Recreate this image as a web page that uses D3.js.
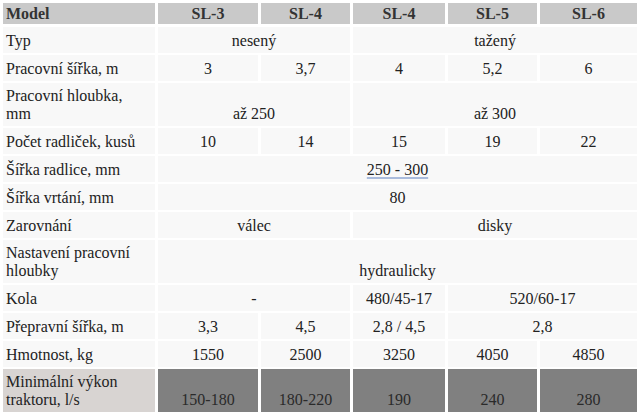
<!DOCTYPE html>
<html><head><meta charset="utf-8">
<script src="https://cdn.jsdelivr.net/npm/d3@7"></script>
<style>body{margin:0;background:#fff}text{font-family:"Liberation Serif",serif;font-size:16px;fill:#222}</style>
</head><body><svg width="643" height="418"></svg>
<script>
// Table content
const models = ["SL-3", "SL-4", "SL-4", "SL-5", "SL-6"];
const rowLabels = [["Typ"], ["Pracovní šířka, m"], ["Pracovní hloubka,", "mm"], ["Počet radliček, kusů"],
  ["Šířka radlice, mm"], ["Šířka vrtání, mm"], ["Zarovnání"], ["Nastavení pracovní", "hloubky"],
  ["Kola"], ["Přepravní šířka, m"], ["Hmotnost, kg"], ["Minimální výkon", "traktoru, l/s"]];
// each cell: [text, span]
const rowValues = [
  [["nesený", 2], ["tažený", 3]],
  [["3", 1], ["3,7", 1], ["4", 1], ["5,2", 1], ["6", 1]],
  [["až 250", 2], ["až 300", 3]],
  [["10", 1], ["14", 1], ["15", 1], ["19", 1], ["22", 1]],
  [["250 - 300", 5]],
  [["80", 5]],
  [["válec", 2], ["disky", 3]],
  [["hydraulicky", 5]],
  [["-", 2], ["480/45-17", 1], ["520/60-17", 2]],
  [["3,3", 1], ["4,5", 1], ["2,8 / 4,5", 1], ["2,8", 2]],
  [["1550", 1], ["2500", 1], ["3250", 1], ["4050", 1], ["4850", 1]],
  [["150-180", 1], ["180-220", 1], ["190", 1], ["240", 1], ["280", 1]]
];
const rowHeights = [28, 28, 45, 28, 28, 28, 28, 45, 28, 28, 28, 45];

const svg = d3.select("svg");
const colEdges = [3, 158, 261, 353, 448, 540, 640];
const yEdges = [3, 26];
rowHeights.forEach(h => yEdges.push(yEdges[yEdges.length - 1] + h));
const gap = 3;

// header
const hdr = svg.append("g");
["Model", ...models].forEach((m, i) => {
  hdr.append("rect").attr("x", colEdges[i]).attr("y", yEdges[0])
    .attr("width", colEdges[i + 1] - colEdges[i] - gap).attr("height", yEdges[1] - yEdges[0] - 2)
    .attr("fill", "#c9c9c9");
  hdr.append("text")
    .attr("x", i === 0 ? colEdges[0] + 3 : (colEdges[i] + colEdges[i + 1] - gap) / 2)
    .attr("y", yEdges[0] + 16).attr("text-anchor", i === 0 ? "start" : "middle")
    .style("font-weight", "bold").style("fill", "#333").text(m);
});

rowValues.forEach((cells, r) => {
  const y0 = yEdges[r + 1], y1 = yEdges[r + 2];
  const last = r === rowValues.length - 1;
  const g = svg.append("g");
  g.append("rect").attr("x", colEdges[0]).attr("y", y0 + 1)
    .attr("width", colEdges[1] - colEdges[0] - gap).attr("height", y1 - y0 - 2)
    .attr("fill", last ? "#d8d4d2" : "#f8f8f8");
  const lines = rowLabels[r];
  lines.forEach((t, k) => {
    g.append("text").attr("x", colEdges[0] + 3)
      .attr("y", y1 - 8 - (lines.length - 1 - k) * 18).text(t);
  });
  let c = 1;
  cells.forEach(([t, span]) => {
    const xa = colEdges[c], xb = colEdges[c + span] - gap;
    g.append("rect").attr("x", xa).attr("y", y0 + 1).attr("width", xb - xa).attr("height", y1 - y0 - 2)
      .attr("fill", last ? "#808080" : "#f8f8f8");
    const tx = g.append("text").attr("x", (xa + xb) / 2).attr("y", y1 - 8)
      .attr("text-anchor", "middle").style("fill", last ? "#2a2a2a" : "#222").text(t);
    if (t === "250 - 300") {
      const w = tx.node().getComputedTextLength();
      g.append("line").attr("x1", (xa + xb - w) / 2).attr("x2", (xa + xb + w) / 2)
        .attr("y1", y1 - 5).attr("y2", y1 - 5).attr("stroke", "#5b7fc0").attr("stroke-width", 1.2);
    }
    c += span;
  });
});
</script></body></html>
